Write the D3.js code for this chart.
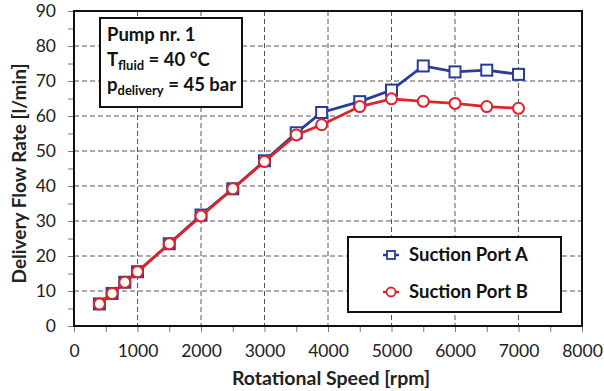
<!DOCTYPE html>
<html>
<head>
<meta charset="utf-8">
<script src="https://cdn.jsdelivr.net/npm/d3@7"></script>
<style>
  body { margin: 0; background: #fff; }
  text { font-family: Lato, "Open Sans", sans-serif; }
</style>
</head>
<body>
<div id="chart"></div>
<script>
// data
var speed  = [400, 600, 800, 1000, 1500, 2000, 2500, 3000, 3500, 3900, 4500, 5000, 5500, 6000, 6500, 7000];
var portA  = [6.3, 9.3, 12.5, 15.5, 23.5, 31.7, 39.2, 47.2, 55.2, 61.0, 64.1, 67.4, 74.3, 72.6, 73.1, 71.9];
var portB  = [6.3, 9.3, 12.5, 15.5, 23.5, 31.4, 39.2, 47.0, 54.6, 57.5, 62.7, 64.9, 64.2, 63.6, 62.7, 62.2];
var xTicks = [0, 1000, 2000, 3000, 4000, 5000, 6000, 7000, 8000];
var yTicks = [0, 10, 20, 30, 40, 50, 60, 70, 80, 90];
var seriesNames = ["Suction Port A", "Suction Port B"];

var W = 604, H = 391;
var margin = {top: 11, right: 22, bottom: 65, left: 74},
    width = W - margin.left - margin.right,
    height = H - margin.top - margin.bottom;

var blue = "#2a3c9a", red = "#e0232b";

var svg = d3.select("#chart").append("svg")
    .attr("width", W)
    .attr("height", H)
  .append("g")
    .attr("transform", "translate(" + margin.left + "," + margin.top + ")");

var x = d3.scaleLinear().domain([0, 8000]).range([0, width]);
var y = d3.scaleLinear().domain([0, 90]).range([height, 0]);

// grid lines
svg.append("g").selectAll("line")
    .data(xTicks.slice(1, -1))
  .enter().append("line")
    .attr("x1", function(d) { return x(d); })
    .attr("x2", function(d) { return x(d); })
    .attr("y1", 0).attr("y2", height)
    .attr("stroke", "#555").attr("stroke-width", 1)
    .attr("stroke-dasharray", "5,3");

svg.append("g").selectAll("line")
    .data(yTicks.slice(1, -1))
  .enter().append("line")
    .attr("y1", function(d) { return y(d); })
    .attr("y2", function(d) { return y(d); })
    .attr("x1", 0).attr("x2", width)
    .attr("stroke", "#555").attr("stroke-width", 1)
    .attr("stroke-dasharray", "5,3");

// axes (ticks every half step, labels on major ones)
var xAxis = d3.axisBottom(x)
    .tickValues(d3.range(0, 8001, 500))
    .tickSize(6).tickPadding(10)
    .tickFormat(function(d) { return xTicks.indexOf(d) >= 0 ? d : ""; });
var gx = svg.append("g")
    .attr("transform", "translate(0," + height + ")")
    .call(xAxis);

var yAxis = d3.axisLeft(y)
    .tickValues(d3.range(0, 91, 5))
    .tickSize(6).tickPadding(12)
    .tickFormat(function(d) { return yTicks.indexOf(d) >= 0 ? d : ""; });
var gy = svg.append("g").call(yAxis);

[gx, gy].forEach(function(g) {
  g.select(".domain").remove();
  g.selectAll(".tick line").attr("stroke", "#777");
  g.selectAll(".tick text")
    .attr("font-size", 17.5)
    .attr("fill", "#222")
    .style("font-family", "Lato, sans-serif");
});
gx.selectAll(".tick text").attr("dy", "0.85em");

// frame
svg.append("rect")
    .attr("x", 0).attr("y", 0)
    .attr("width", width).attr("height", height)
    .attr("fill", "none")
    .attr("stroke", "#111").attr("stroke-width", 2);

// lines
var valueline = d3.line()
    .x(function(d, i) { return x(speed[i]); })
    .y(function(d) { return y(d); });

function drawSeries(vals, color, shape) {
  svg.append("path")
      .datum(vals)
      .attr("fill", "none")
      .attr("stroke", color)
      .attr("stroke-width", 2.8)
      .attr("d", valueline);
  var pts = svg.append("g").selectAll(".pt")
      .data(vals)
    .enter();
  if (shape === "square") {
    pts.append("rect")
        .attr("x", function(d, i) { return x(speed[i]) - 5.5; })
        .attr("y", function(d) { return y(d) - 5.5; })
        .attr("width", 11).attr("height", 11)
        .attr("fill", "#fff")
        .attr("stroke", color).attr("stroke-width", 2);
  } else {
    pts.append("circle")
        .attr("cx", function(d, i) { return x(speed[i]); })
        .attr("cy", function(d) { return y(d); })
        .attr("r", 5.5)
        .attr("fill", "#fff")
        .attr("stroke", color).attr("stroke-width", 2);
  }
}
drawSeries(portA, blue, "square");
drawSeries(portB, red, "circle");

// axis titles
svg.append("text")
    .attr("x", width / 2 + 3)
    .attr("y", height + 59)
    .attr("text-anchor", "middle")
    .attr("font-size", 19.5)
    .attr("font-weight", "bold")
    .attr("fill", "#222")
    .text("Rotational Speed [rpm]");

svg.append("text")
    .attr("transform", "translate(-48," + (height / 2 + 5) + ")rotate(-90)")
    .attr("text-anchor", "middle")
    .attr("font-size", 19)
    .attr("font-weight", "bold")
    .attr("fill", "#222")
    .text("Delivery Flow Rate [l/min]");

// info box
var info = svg.append("g").attr("transform", "translate(26,7)");
info.append("rect")
    .attr("width", 142).attr("height", 89)
    .attr("fill", "#fff")
    .attr("stroke", "#111").attr("stroke-width", 2);
var t1 = info.append("text").attr("x", 7).attr("y", 23)
    .attr("font-size", 18.5).attr("font-weight", "bold").attr("fill", "#111")
    .text("Pump nr. 1");
var t2 = info.append("text").attr("x", 7).attr("y", 48)
    .attr("font-size", 18.5).attr("font-weight", "bold").attr("fill", "#111");
t2.append("tspan").text("T");
t2.append("tspan").attr("font-size", 13).attr("dy", 4).text("fluid");
t2.append("tspan").attr("dy", -4).text(" = 40 °C");
var t3 = info.append("text").attr("x", 7).attr("y", 73)
    .attr("font-size", 18.5).attr("font-weight", "bold").attr("fill", "#111");
t3.append("tspan").text("p");
t3.append("tspan").attr("font-size", 13).attr("dy", 4).text("delivery");
t3.append("tspan").attr("dy", -4).text(" = 45 bar");

// legend
var legend = svg.append("g").attr("transform", "translate(274,226)");
legend.append("rect")
    .attr("width", 213).attr("height", 75)
    .attr("fill", "#fff")
    .attr("stroke", "#111").attr("stroke-width", 2);
var legItems = legend.selectAll(".item")
    .data(seriesNames)
  .enter().append("g")
    .attr("transform", function(d, i) { return "translate(0," + (18 + i * 37) + ")"; });
legItems.append("line")
    .attr("x1", 35).attr("x2", 51)
    .attr("stroke", function(d, i) { return i === 0 ? blue : red; })
    .attr("stroke-width", 2.5);
legItems.filter(function(d, i) { return i === 0; }).append("rect")
    .attr("x", 39).attr("y", -4).attr("width", 8).attr("height", 8)
    .attr("fill", "#fff").attr("stroke", blue).attr("stroke-width", 1.8);
legItems.filter(function(d, i) { return i === 1; }).append("circle")
    .attr("cx", 43).attr("r", 4.5)
    .attr("fill", "#fff").attr("stroke", red).attr("stroke-width", 1.8);
legItems.append("text")
    .attr("x", 61).attr("dy", "0.35em")
    .attr("font-size", 18.5).attr("font-weight", "bold").attr("fill", "#111")
    .text(function(d) { return d; });
</script>
</body>
</html>
